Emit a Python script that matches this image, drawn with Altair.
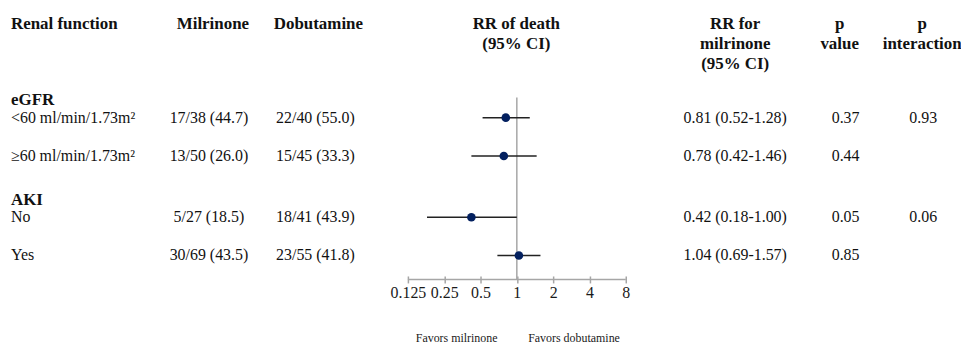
import altair as alt
import pandas as pd

# ---- data ----
groups = ["eGFR", "AKI"]
row_group = ["eGFR", "eGFR", "AKI", "AKI"]
labels = ["<60 ml/min/1.73m²", "≥60 ml/min/1.73m²", "No", "Yes"]
milrinone = ["17/38 (44.7)", "13/50 (26.0)", "5/27 (18.5)", "30/69 (43.5)"]
dobutamine = ["22/40 (55.0)", "15/45 (33.3)", "18/41 (43.9)", "23/55 (41.8)"]
rr = [0.81, 0.78, 0.42, 1.04]
rr_lo = [0.52, 0.42, 0.18, 0.69]
rr_hi = [1.28, 1.46, 1.00, 1.57]
p_value = ["0.37", "0.44", "0.05", "0.85"]
p_interaction = ["0.93", "", "0.06", ""]
axis_ticks = [0.125, 0.25, 0.5, 1, 2, 4, 8]
favors = ["Favors milrinone", "Favors dobutamine"]

# ---- layout (row slots) ----
group_rows = []
item_rows = []
g = 0.0
for grp in groups:
    group_rows.append({"label": grp, "slot": g})
    k = 0
    for i, rg in enumerate(row_group):
        if rg == grp:
            s = g + 0.45 + k
            item_rows.append({
                "label": labels[i], "slot": s,
                "mil": milrinone[i], "dob": dobutamine[i],
                "rr": rr[i], "lo": rr_lo[i], "hi": rr_hi[i],
                "rrtxt": f"{rr[i]:.2f} ({rr_lo[i]:.2f}-{rr_hi[i]:.2f})",
                "p": p_value[i], "pint": p_interaction[i],
            })
            k += 1
            last = s
    g = last + 1.15

items = pd.DataFrame(item_rows)
grps = pd.DataFrame(group_rows)

H = 272
W = 958
px_per_slot = 38.5
top_off = 92
yscale = alt.Scale(domain=[-top_off / px_per_slot, (H - top_off) / px_per_slot],
                   reverse=True, nice=False, zero=False)
xscale = alt.Scale(type="log", base=2, domain=[0.125, 8], range=[402, 621], nice=False)
xaxis = alt.Axis(values=axis_ticks, title=None, grid=False, domain=False,
                 labelExpr="'' + datum.value", labelOverlap=False, labelFlush=False,
                 tickColor="#a6a6a6", tickWidth=1.5, tickSize=7, offset=-3.5,
                 labelPadding=2,
                 labelFont="Liberation Serif", labelFontSize=16, labelColor="#1a1a1a")

FONT = "Liberation Serif"
FS = 16
HFS = 17
NAVY = "#03205f"

base = alt.Chart(items)
Y = alt.Y("slot:Q", scale=yscale, axis=None)

refline = alt.Chart(pd.DataFrame({"v": [1]})).mark_rule(color="#a6a6a6", strokeWidth=1.5).encode(
    x=alt.X("v:Q", scale=xscale, axis=xaxis),
    y=alt.value(89), y2=alt.value(H),
)
axisline = alt.Chart(pd.DataFrame({"a": [axis_ticks[0]], "b": [axis_ticks[-1]]})).mark_rule(
    color="#a6a6a6", strokeWidth=1.5).encode(
    x=alt.X("a:Q", scale=xscale, axis=xaxis), x2="b:Q", y=alt.value(H),
)
ci = base.mark_rule(color="#222222", strokeWidth=1.5).encode(
    x=alt.X("lo:Q", scale=xscale, axis=xaxis), x2="hi:Q", y=Y,
)
pts = base.mark_circle(size=75, color=NAVY, opacity=1).encode(
    x=alt.X("rr:Q", scale=xscale, axis=xaxis), y=Y,
)

def col(field, x, align="center"):
    return base.mark_text(font=FONT, fontSize=FS, color="#111111", align=align,
                          baseline="middle").encode(
        x=alt.value(x), y=Y, text=f"{field}:N")

lab = col("label", 3, "left")
mil = col("mil", 202)
dob = col("dob", 309)
rrt = col("rrtxt", 731)
pv = col("p", 842)
pi = col("pint", 920)

grp_txt = alt.Chart(grps).mark_text(font=FONT, fontSize=HFS, fontWeight="bold", color="#111111",
                                     align="left", baseline="middle").encode(
    x=alt.value(3), y=alt.Y("slot:Q", scale=yscale, axis=None), text="label:N")

headers = pd.DataFrame([
    {"t": "Renal function", "x": 3, "line": 0, "a": "left"},
    {"t": "Milrinone", "x": 206, "line": 0, "a": "center"},
    {"t": "Dobutamine", "x": 312, "line": 0, "a": "center"},
    {"t": "RR of death", "x": 511, "line": 0, "a": "center"},
    {"t": "(95% CI)", "x": 511, "line": 1, "a": "center"},
    {"t": "RR for", "x": 731, "line": 0, "a": "center"},
    {"t": "milrinone", "x": 731, "line": 1, "a": "center"},
    {"t": "(95% CI)", "x": 731, "line": 2, "a": "center"},
    {"t": "p", "x": 836, "line": 0, "a": "center"},
    {"t": "value", "x": 836, "line": 1, "a": "center"},
    {"t": "p", "x": 919, "line": 0, "a": "center"},
    {"t": "interaction", "x": 919, "line": 1, "a": "center"},
])

hdr_layers = []
for _, r in headers.iterrows():
    hdr_layers.append(
        alt.Chart(pd.DataFrame({"t": [r["t"]]})).mark_text(
            font=FONT, fontSize=HFS, fontWeight="bold", color="#111111",
            align=r["a"], baseline="middle").encode(
            x=alt.value(int(r["x"])), y=alt.value(15 + 20 * int(r["line"])), text="t:N")
    )

fav_layers = []
for txt, fx in zip(favors, [451, 569]):
    fav_layers.append(
        alt.Chart(pd.DataFrame({"t": [txt]})).mark_text(
            font=FONT, fontSize=12, color="#1a1a1a", align="center", baseline="middle").encode(
            x=alt.value(fx), y=alt.value(331), text="t:N")
    )

chart = alt.layer(refline, axisline, ci, pts, lab, mil, dob, rrt, pv, pi, grp_txt,
                  *hdr_layers, *fav_layers).properties(
    width=W, height=H,
    background="white",
    autosize=alt.AutoSizeParams(type="none"),
    padding={"left": 0, "top": 0, "right": 0, "bottom": 66},
).configure_view(strokeWidth=0, stroke=None)

chart.save("out.html", embed_options={"renderer": "svg", "actions": False})
